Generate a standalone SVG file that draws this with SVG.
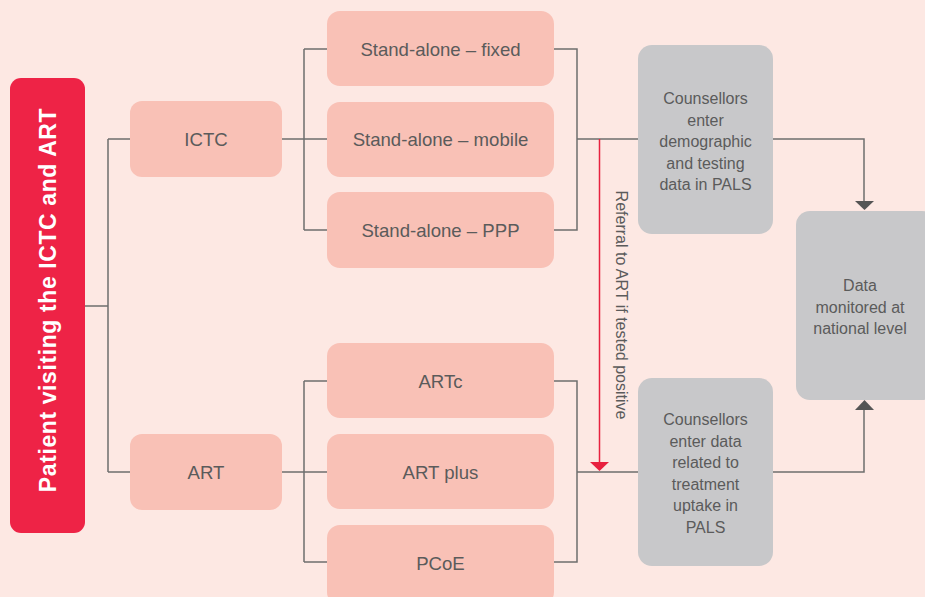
<svg xmlns="http://www.w3.org/2000/svg" width="925" height="597" viewBox="0 0 925 597">
<defs>
<style>
.pink{fill:#f9c1b6}
.gray{fill:#c8c8ca}
.t{font-family:"Liberation Sans",Arial,sans-serif;fill:#5b5b5b;text-anchor:middle;dominant-baseline:central}
.t18{font-size:18.6px}
.t16{font-size:16px}
.ln{fill:none;stroke:#6e6e6e;stroke-width:1.5}
</style>
</defs>
<rect x="0" y="0" width="925" height="597" fill="#fde8e3"/>
<g id="patient">
<rect x="10" y="78" width="75" height="455" rx="11" fill="#ee2346"/>
<text x="0" y="0" transform="translate(48,300) rotate(-90)" font-family="'Liberation Sans',Arial,sans-serif" font-weight="bold" font-size="23" letter-spacing="0.6" fill="#ffffff" text-anchor="middle" dominant-baseline="central">Patient visiting the ICTC and ART</text>
</g>
<g id="connectors">
<path class="ln" d="M85,306 H108 M108,139 V472 M108,139 H130 M108,472 H130"/>
<path class="ln" d="M282,139 H327 M304,49 V230 M304,49 H327 M304,230 H327"/>
<path class="ln" d="M554,49 H577 V230 H554 M577,139 H638"/>
<path class="ln" d="M282,472 H327 M304,381 V562 M304,381 H327 M304,562 H327"/>
<path class="ln" d="M554,381 H577 V562 H554 M577,472 H638"/>
<path class="ln" d="M773,139 H864 V203"/>
<polygon points="855,201 874,201 864.5,210" fill="#555"/>
<path class="ln" d="M773,472 H864 V408"/>
<polygon points="855,410 874,410 864.5,400" fill="#555"/>
<path d="M599.5,139 V463" fill="none" stroke="#e8213f" stroke-width="1.5"/>
<polygon points="590,462 609,462 599.5,471" fill="#e8213f"/>
<text class="t t16" x="0" y="0" transform="translate(621,305) rotate(90)">Referral to ART if tested positive</text>
</g>
<g id="ictc"><rect class="pink" x="130" y="101" width="152" height="76" rx="12"/><text class="t t18" x="206" y="139">ICTC</text></g>
<g id="art"><rect class="pink" x="130" y="434" width="152" height="76" rx="12"/><text class="t t18" x="206" y="472">ART</text></g>
<g id="sa-fixed"><rect class="pink" x="327" y="11" width="227" height="75" rx="13"/><text class="t t18" x="440.5" y="49">Stand-alone – fixed</text></g>
<g id="sa-mobile"><rect class="pink" x="327" y="102" width="227" height="75" rx="13"/><text class="t t18" x="440.5" y="139">Stand-alone – mobile</text></g>
<g id="sa-ppp"><rect class="pink" x="327" y="192" width="227" height="76" rx="13"/><text class="t t18" x="440.5" y="230">Stand-alone – PPP</text></g>
<g id="artc"><rect class="pink" x="327" y="343" width="227" height="75" rx="13"/><text class="t t18" x="440.5" y="381">ARTc</text></g>
<g id="artplus"><rect class="pink" x="327" y="434" width="227" height="75" rx="13"/><text class="t t18" x="440.5" y="472">ART plus</text></g>
<g id="pcoe"><rect class="pink" x="327" y="525" width="227" height="80" rx="13"/><text class="t t18" x="440.5" y="563">PCoE</text></g>
<g id="counsellors1"><rect class="gray" x="638" y="45" width="135" height="189" rx="14"/>
<text class="t t16" x="705.5"><tspan x="705.5" y="98">Counsellors</tspan><tspan x="705.5" y="119.5">enter</tspan><tspan x="705.5" y="141">demographic</tspan><tspan x="705.5" y="162.5">and testing</tspan><tspan x="705.5" y="184">data in PALS</tspan></text></g>
<g id="counsellors2"><rect class="gray" x="638" y="378" width="135" height="188" rx="14"/>
<text class="t t16" x="705.5"><tspan x="705.5" y="419">Counsellors</tspan><tspan x="705.5" y="440.5">enter data</tspan><tspan x="705.5" y="462">related to</tspan><tspan x="705.5" y="483.5">treatment</tspan><tspan x="705.5" y="505">uptake in</tspan><tspan x="705.5" y="526.5">PALS</tspan></text></g>
<g id="national"><rect class="gray" x="796" y="211" width="140" height="189" rx="14"/>
<text class="t t16" x="860"><tspan x="860" y="285">Data</tspan><tspan x="860" y="306.5">monitored at</tspan><tspan x="860" y="328">national level</tspan></text></g>
</svg>
